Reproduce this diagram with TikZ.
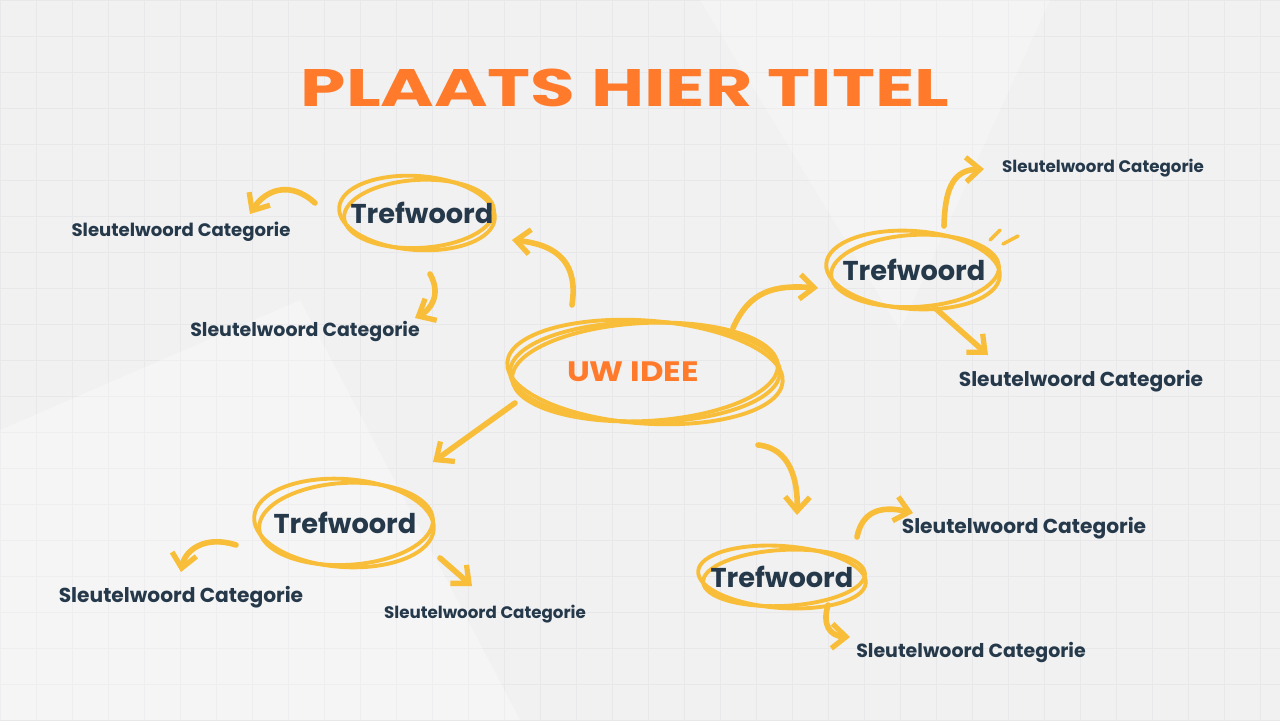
\documentclass[tikz,border=0pt]{standalone}
\usepackage{fontspec}
\setmainfont{Poppins}
\usetikzlibrary{arrows.meta}
\definecolor{bgc}{HTML}{F1F1F2}
\definecolor{gridc}{HTML}{E8E8EA}
\definecolor{ttl}{HTML}{FF7A2A}
\definecolor{txt}{HTML}{25394A}
\definecolor{yel}{HTML}{F8BE3A}
\tikzset{
  x=0.02cm,y=-0.02cm,
  arr/.style={yel,line width=3.2pt,line cap=round,-{Straight Barb[length=8pt,width=14pt,line width=3pt]}},
  sketch/.style={yel,line width=2.2pt},
  kw/.style={text=txt,font=\bfseries\fontsize{15.5}{17}\selectfont},
  cats/.style={text=txt,font=\fontsize{9.5}{11}\selectfont\bfseries},
  cat/.style={text=txt,font=\fontsize{10.3}{12}\selectfont\bfseries},
  catm/.style={text=txt,font=\fontsize{10.8}{12}\selectfont\bfseries},
  catl/.style={text=txt,font=\fontsize{11.5}{13}\selectfont\bfseries}
}
\begin{document}
\begin{tikzpicture}
\fill[bgc] (0,0) rectangle (1280,720);
\useasboundingbox (0,0) rectangle (1280,720);
\foreach \i in {0,36,...,1280} \draw[gridc,line width=0.4pt] (\i,0) -- (\i,720);
\foreach \j in {0,36,...,720} \draw[gridc,line width=0.4pt] (0,\j) -- (1280,\j);
\fill[white,opacity=0.3] (0,430) -- (300,300) -- (520,720) -- (0,720) -- cycle;
\fill[white,opacity=0.25] (700,0) -- (1050,0) -- (900,330) -- cycle;

\node[text=ttl,font=\bfseries\fontsize{30}{34}\selectfont,xscale=1.38] (title) at (625,88) {PLAATS HIER TITEL};

% central idea
\foreach \r/\a in {0/0,3/-4,-2/3} {
  \pgfmathsetmacro{\rxa}{135+\r}\pgfmathsetmacro{\rya}{50+\r/2}
  \draw[sketch,rotate around={\a:(645,372)}] (645,372) circle [x radius=\rxa, y radius=\rya];
}
\node[text=ttl,font=\bfseries\fontsize{16}{18}\selectfont,xscale=1.15] (idea) at (633,372) {UW IDEE};

% keywords
\foreach \cx/\cy/\rx/\ry in {417/213/78/37, 913/270/87/39, 344/523/90/44, 782/577/84/31}{
  \pgfmathsetmacro{\rxb}{\rx-3}\pgfmathsetmacro{\ryb}{\ry-3}
  \draw[sketch,rotate around={-4:(\cx,\cy)}] (\cx,\cy) circle [x radius=\rx, y radius=\ry];
  \draw[sketch,rotate around={3:(\cx,\cy)}] (\cx+2,\cy+1) circle [x radius=\rxb, y radius=\ryb];
}
\node[kw] (k1) at (422,213) {Trefwoord};
\node[kw] (k2) at (914,270) {Trefwoord};
\node[kw] (k3) at (345,523) {Trefwoord};
\node[kw] (k4) at (782,577) {Trefwoord};

\node[cat] (c1) at (181,232) {Sleutelwoord Categorie};
\node[catm] (c2) at (305,332) {Sleutelwoord Categorie};
\node[cats] (c3) at (1103,168) {Sleutelwoord Categorie};
\node[catl] (c4) at (1081,381) {Sleutelwoord Categorie};
\node[catl] (c5) at (181,597) {Sleutelwoord Categorie};
\node[cats] (c6) at (485,614) {Sleutelwoord Categorie};
\node[catl] (c7) at (1024,528) {Sleutelwoord Categorie};
\node[catm] (c8) at (971,652) {Sleutelwoord Categorie};

% arrows from idea
\draw[arr] (572,305) .. controls (578,265) and (560,245) .. (512,240);
\draw[arr] (733,328) .. controls (750,290) and (775,285) .. (818,288);
\draw[arr] (515,403) -- (433,462);
\draw[arr] (758,445) .. controls (790,448) and (798,480) .. (797,515);
% arrows from keywords
\draw[arr] (315,203) .. controls (290,180) and (265,190) .. (250,214);
\draw[arr] (430,274) .. controls (442,295) and (430,310) .. (415,318);
\draw[arr] (944,226) .. controls (945,185) and (955,170) .. (984,169);
\draw[arr] (935,308) -- (988,355);
\draw[arr] (236,545) .. controls (205,535) and (185,550) .. (181,572);
\draw[arr] (440,558) -- (472,586);
\draw[arr] (857,537) .. controls (862,512) and (880,505) .. (913,513);
\draw[arr] (828,605) .. controls (822,625) and (830,636) .. (850,637);
\draw[yel,line width=2pt,line cap=round] (990,240) -- (1000,230);
\draw[yel,line width=2pt,line cap=round] (1003,244) -- (1018,236);
\end{tikzpicture}
\end{document}
